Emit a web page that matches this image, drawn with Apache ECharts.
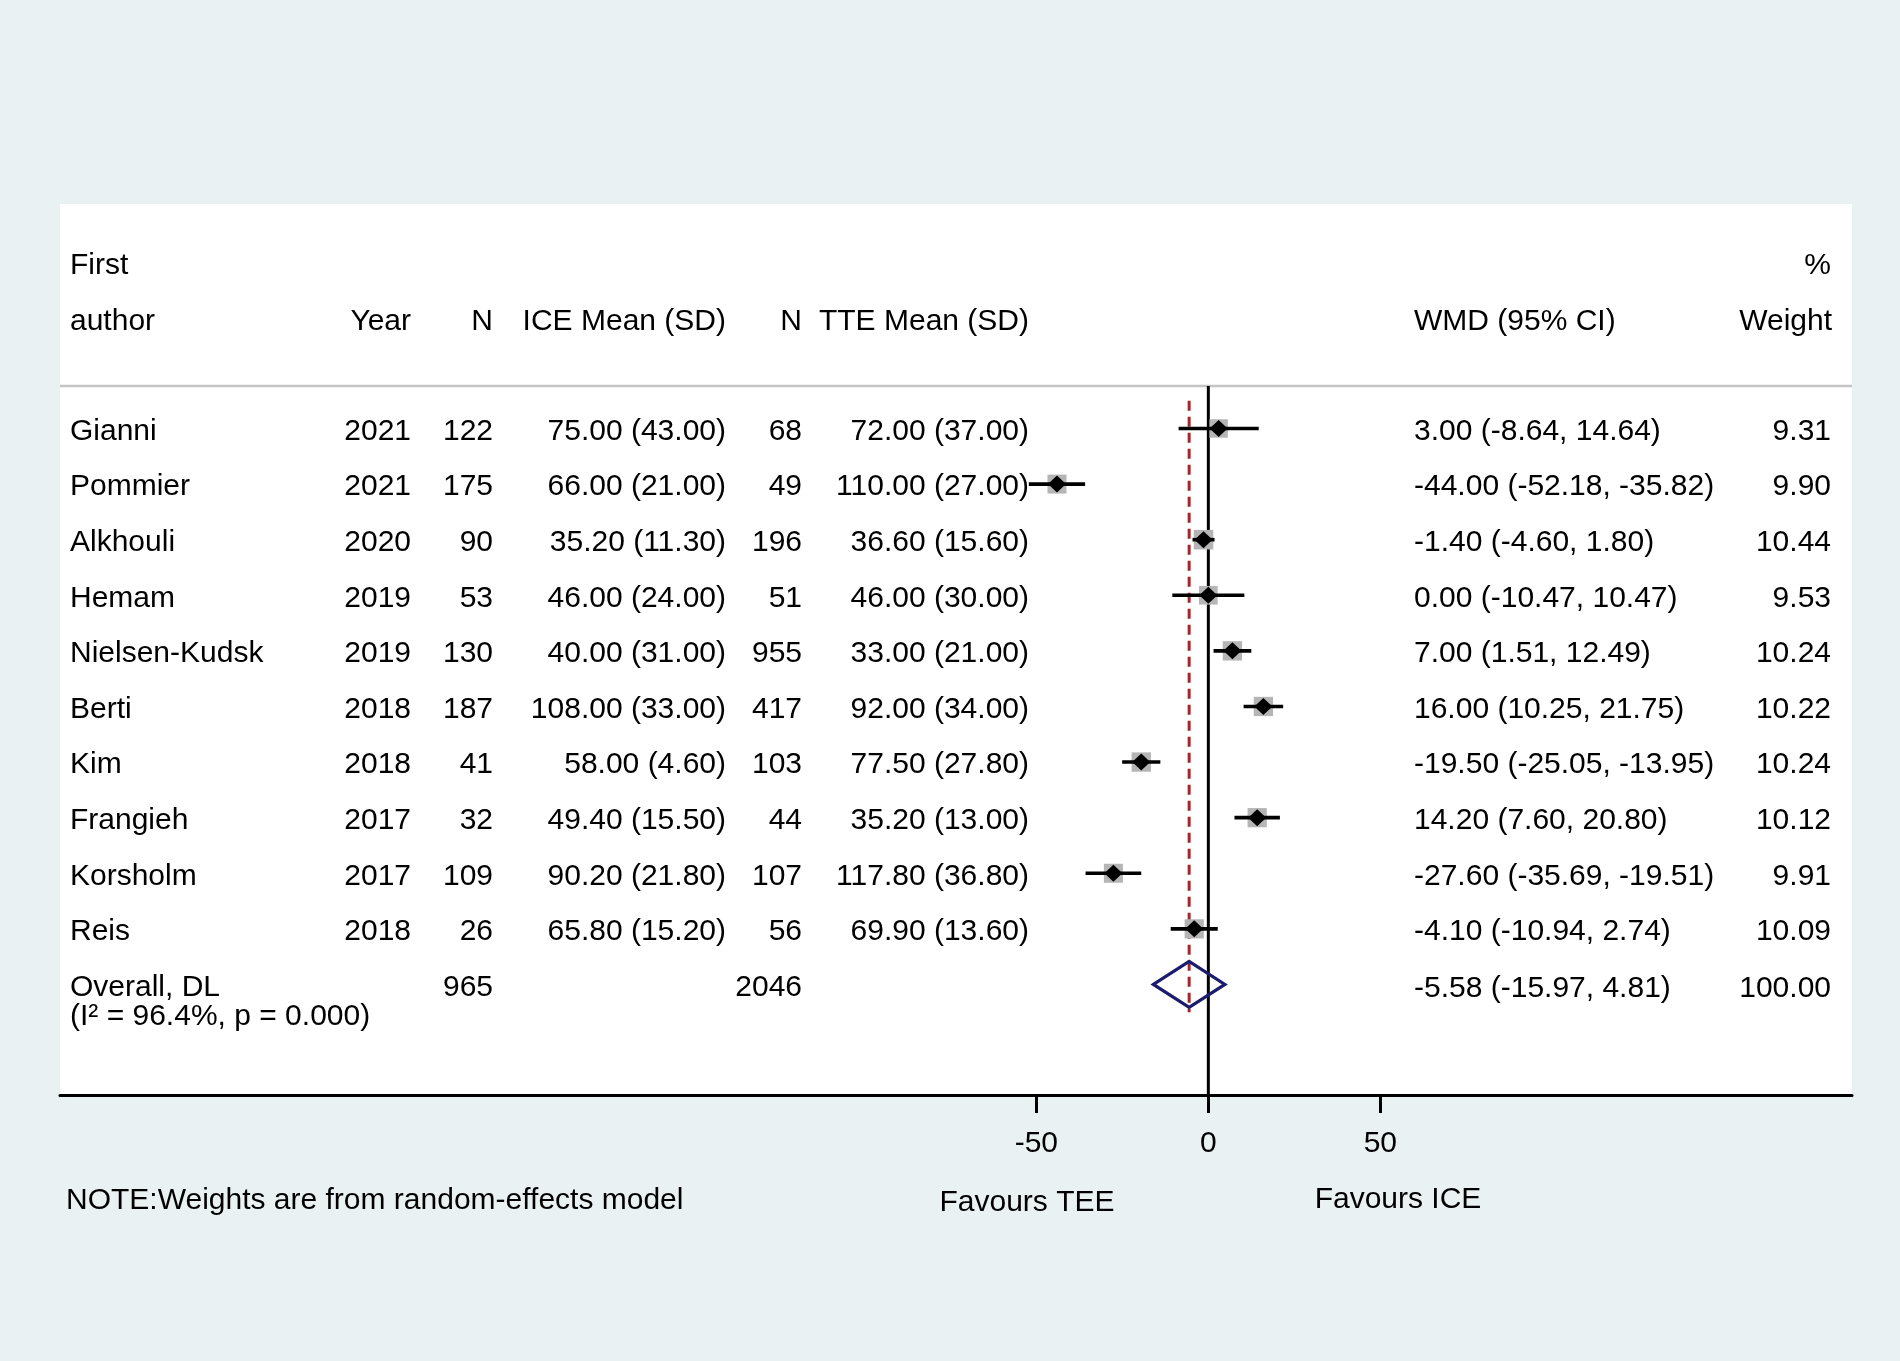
<!DOCTYPE html>
<html><head><meta charset="utf-8">
<script src="https://cdn.jsdelivr.net/npm/echarts@6/dist/echarts.min.js"></script>
<style>html,body{margin:0;padding:0;background:#e9f1f3;} #c{width:1900px;height:1361px;}</style>
</head><body><div id="c"></div>
<script>
// ---------- data ----------
const authors = ['Gianni','Pommier','Alkhouli','Hemam','Nielsen-Kudsk','Berti','Kim','Frangieh','Korsholm','Reis'];
const years   = [2021,2021,2020,2019,2019,2018,2018,2017,2017,2018];
const nICE    = [122,175,90,53,130,187,41,32,109,26];
const iceMean = [75.00,66.00,35.20,46.00,40.00,108.00,58.00,49.40,90.20,65.80];
const iceSD   = [43.00,21.00,11.30,24.00,31.00,33.00,4.60,15.50,21.80,15.20];
const nTTE    = [68,49,196,51,955,417,103,44,107,56];
const tteMean = [72.00,110.00,36.60,46.00,33.00,92.00,77.50,35.20,117.80,69.90];
const tteSD   = [37.00,27.00,15.60,30.00,21.00,34.00,27.80,13.00,36.80,13.60];
const wmd     = [3.00,-44.00,-1.40,0.00,7.00,16.00,-19.50,14.20,-27.60,-4.10];
const ciLow   = [-8.64,-52.18,-4.60,-10.47,1.51,10.25,-25.05,7.60,-35.69,-10.94];
const ciHigh  = [14.64,-35.82,1.80,10.47,12.49,21.75,-13.95,20.80,-19.51,2.74];
const weights = [9.31,9.90,10.44,9.53,10.24,10.22,10.24,10.12,9.91,10.09];
const overallLabel = 'Overall, DL';
const overallHet = '(I\u00B2 = 96.4%, p = 0.000)';
const overallNICE = 965;
const overallNTTE = 2046;
const overallEst = -5.58, overallLow = -15.97, overallHigh = 4.81, overallWeight = 100.00;
const tickValues = [-50, 0, 50];

// ---------- layout ----------
const FONT = '"Liberation Sans", Arial, sans-serif';
const FS = 30;
const COL = {author:70, year:411, nIce:493, ice:726, nTte:802, tte:1029, wmd:1414, weight:1831};
const nRows = authors.length;
const Y_MIN = -0.764, Y_MAX = 11.988;
const TY = 3; // text baseline nudge

function txt(x, y, text, align) {
  return {type:'text', x:x, y:y, silent:true,
    style:{text:String(text), align:align, verticalAlign:'middle', fontSize:FS, fontFamily:FONT, fill:'#000'}};
}
const f2 = v => v.toFixed(2);

const chart = echarts.init(document.getElementById('c'), null, {renderer:'canvas'});

const rowData = authors.map((a, i) => [wmd[i], i]);

const option = {
  animation: false,
  backgroundColor: '#e9f1f3',
  grid: {left:60, right:48, top:386, bottom:266, containLabel:false, outerBoundsMode:'none'},
  xAxis: {
    type:'value', min:-333.8, max:187.1,
    axisLine:{show:true, onZero:false, lineStyle:{color:'#000', width:3}},
    axisTick:{show:true, customValues:tickValues, length:18, lineStyle:{color:'#000', width:3}},
    axisLabel:{show:true, customValues:tickValues, fontSize:FS, fontFamily:FONT, color:'#000', margin:34},
    splitLine:{show:false}
  },
  yAxis: {type:'value', inverse:true, min:Y_MIN, max:Y_MAX, show:false},
  graphic: [
    {type:'rect', z:-10, silent:true, shape:{x:60, y:204, width:1792, height:891}, style:{fill:'#fff'}},
    {type:'line', silent:true, shape:{x1:60, y1:386, x2:1852, y2:386}, style:{stroke:'#c4c4c4', lineWidth:2.5}},
    txt(COL.author, 265.5, 'First', 'left'),
    txt(COL.author, 321.5, 'author', 'left'),
    txt(COL.year, 321.5, 'Year', 'right'),
    txt(COL.nIce, 321.5, 'N', 'right'),
    txt(COL.ice, 321.5, 'ICE Mean (SD)', 'right'),
    txt(COL.nTte, 321.5, 'N', 'right'),
    txt(COL.tte, 321.5, 'TTE Mean (SD)', 'right'),
    txt(COL.wmd, 321.5, 'WMD (95% CI)', 'left'),
    txt(COL.weight, 265.5, '%', 'right'),
    txt(COL.weight + 1, 321.5, 'Weight', 'right'),
    txt(66, 1201, 'NOTE:Weights are from random-effects model', 'left'),
    txt(1027, 1203, 'Favours TEE', 'center'),
    txt(1398, 1200, 'Favours ICE', 'center')
  ],
  series: [
    { // null line (x = 0)
      type:'line', silent:true, symbol:'none', z:1,
      data:[[0, Y_MIN], [0, Y_MAX]],
      lineStyle:{color:'#000', width:3}
    },
    { // overall estimate dashed line
      type:'line', silent:true, symbol:'none', z:1,
      data:[[overallEst, -0.5], [overallEst, nRows + 0.5]],
      lineStyle:{color:'#a0282d', width:3, type:[10,6]}
    },
    { // study markers
      type:'custom', silent:true, z:3,
      data: rowData,
      encode:{x:0, y:1},
      renderItem: function (params, api) {
        const i = params.dataIndex;
        const c = api.coord([api.value(0), api.value(1)]);
        const xl = api.coord([ciLow[i], i])[0];
        const xh = api.coord([ciHigh[i], i])[0];
        const side = 6.04 * Math.sqrt(weights[i]);
        return {type:'group', children:[
          {type:'rect', shape:{x:c[0]-side/2, y:c[1]-side/2, width:side, height:side}, style:{fill:'#b5b5b5'}},
          {type:'line', shape:{x1:xl, y1:c[1], x2:xh, y2:c[1]}, style:{stroke:'#000', lineWidth:3.6}},
          {type:'polygon', shape:{points:[[c[0]-9,c[1]],[c[0],c[1]-8.5],[c[0]+9,c[1]],[c[0],c[1]+8.5]]}, style:{fill:'#000'}}
        ]};
      }
    },
    { // overall diamond
      type:'custom', silent:true, z:3,
      data:[[overallEst, nRows]],
      encode:{x:0, y:1},
      renderItem: function (params, api) {
        const c = api.coord([api.value(0), api.value(1)]);
        const xl = api.coord([overallLow, nRows])[0];
        const xh = api.coord([overallHigh, nRows])[0];
        return {type:'polygon', shape:{points:[[xl,c[1]],[c[0],c[1]-23],[xh,c[1]],[c[0],c[1]+23]]},
          style:{fill:'none', stroke:'#1c1c6e', lineWidth:3.2}};
      }
    },
    { // table text for each study
      type:'custom', silent:true, z:4, clip:false,
      data: rowData,
      encode:{x:0, y:1},
      renderItem: function (params, api) {
        const i = params.dataIndex;
        const y = api.coord([0, api.value(1)])[1] + TY;
        return {type:'group', children:[
          txt(COL.author, y, authors[i], 'left'),
          txt(COL.year, y, years[i], 'right'),
          txt(COL.nIce, y, nICE[i], 'right'),
          txt(COL.ice, y, f2(iceMean[i]) + ' (' + f2(iceSD[i]) + ')', 'right'),
          txt(COL.nTte, y, nTTE[i], 'right'),
          txt(COL.tte, y, f2(tteMean[i]) + ' (' + f2(tteSD[i]) + ')', 'right'),
          txt(COL.wmd, y, f2(wmd[i]) + ' (' + f2(ciLow[i]) + ', ' + f2(ciHigh[i]) + ')', 'left'),
          txt(COL.weight, y, f2(weights[i]), 'right')
        ]};
      }
    },
    { // overall row text
      type:'custom', silent:true, z:4, clip:false,
      data:[[overallEst, nRows]],
      encode:{x:0, y:1},
      renderItem: function (params, api) {
        const y = api.coord([0, api.value(1)])[1];
        return {type:'group', children:[
          txt(COL.author, y + 3, overallLabel, 'left'),
          txt(COL.author, y + 32, overallHet, 'left'),
          txt(COL.nIce, y + 3, overallNICE, 'right'),
          txt(COL.nTte, y + 3, overallNTTE, 'right'),
          txt(COL.wmd, y + 4, f2(overallEst) + ' (' + f2(overallLow) + ', ' + f2(overallHigh) + ')', 'left'),
          txt(COL.weight, y + 4, f2(overallWeight), 'right')
        ]};
      }
    }
  ]
};
chart.setOption(option);
</script>
</body></html>
